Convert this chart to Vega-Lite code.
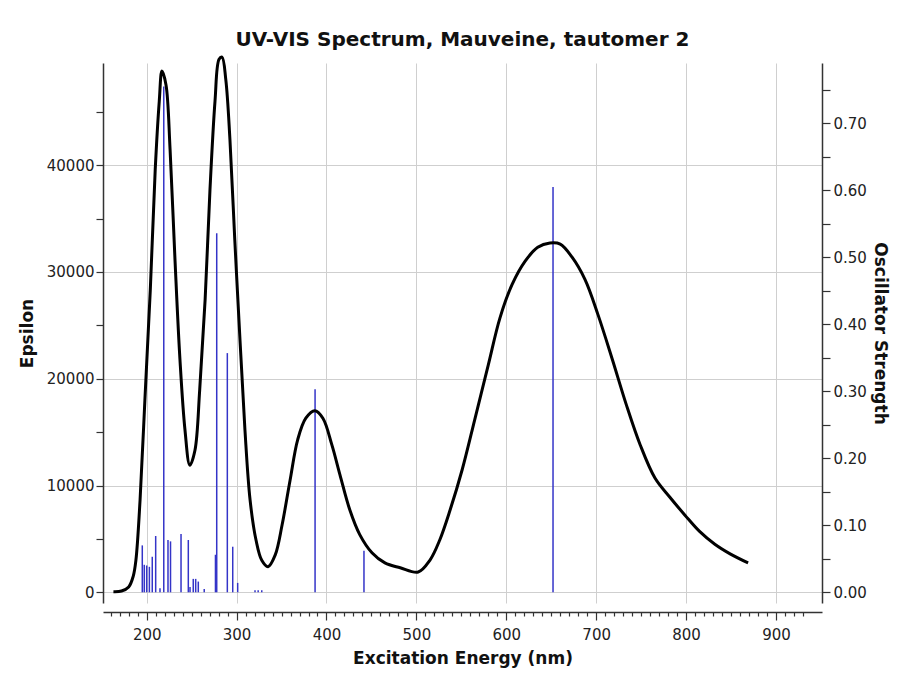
{
  "$schema": "https://vega.github.io/schema/vega-lite/v6.json",
  "width": 719,
  "height": 540,
  "autosize": {"type": "none"},
  "padding": {"left": 103, "top": 63, "right": 80, "bottom": 74},
  "background": "white",
  "title": {"text": "UV-VIS Spectrum, Mauveine, tautomer 2", "font": "DejaVu Sans", "fontSize": 20, "fontWeight": "bold", "color": "#111111", "offset": 6},
  "config": {
    "view": {"stroke": null},
    "axis": {"labelFont": "DejaVu Sans", "labelFontSize": 15, "labelColor": "#222222", "titleFont": "DejaVu Sans", "titleFontSize": 17, "titleFontWeight": "bold", "titleColor": "#111111", "domainColor": "#333333", "tickColor": "#333333", "gridColor": "#cfcfcf", "domainWidth": 1.5, "tickWidth": 1.2}
  },
  "datasets": {
    "curve": [
      {"nm": 163, "eps": 60}, {"nm": 172, "eps": 120}, {"nm": 180, "eps": 500}, {"nm": 185, "eps": 1500},
      {"nm": 188, "eps": 3000}, {"nm": 192.6, "eps": 8600}, {"nm": 198, "eps": 18000}, {"nm": 204, "eps": 28300},
      {"nm": 209.5, "eps": 39600}, {"nm": 214, "eps": 46000}, {"nm": 217, "eps": 48800}, {"nm": 221.5, "eps": 47500},
      {"nm": 226, "eps": 41500}, {"nm": 231.5, "eps": 31100}, {"nm": 237, "eps": 21800}, {"nm": 242.6, "eps": 15200},
      {"nm": 248, "eps": 11900}, {"nm": 253.7, "eps": 13300}, {"nm": 259, "eps": 19000}, {"nm": 265, "eps": 27400},
      {"nm": 270.4, "eps": 37700}, {"nm": 276, "eps": 46000}, {"nm": 280.5, "eps": 49900}, {"nm": 283.8, "eps": 50100},
      {"nm": 288, "eps": 48000}, {"nm": 292.6, "eps": 42400}, {"nm": 298, "eps": 33000}, {"nm": 303.8, "eps": 23600},
      {"nm": 309.3, "eps": 15200}, {"nm": 315, "eps": 8650}, {"nm": 321.6, "eps": 4900}, {"nm": 328, "eps": 3000},
      {"nm": 335, "eps": 2400}, {"nm": 343, "eps": 3500}, {"nm": 350.6, "eps": 6300}, {"nm": 359.5, "eps": 10500},
      {"nm": 368, "eps": 14300}, {"nm": 377, "eps": 16300}, {"nm": 387, "eps": 17000}, {"nm": 396, "eps": 16300},
      {"nm": 406, "eps": 13800}, {"nm": 415, "eps": 11000}, {"nm": 426, "eps": 7700}, {"nm": 437, "eps": 5400},
      {"nm": 450.6, "eps": 3700}, {"nm": 465, "eps": 2750}, {"nm": 482, "eps": 2300}, {"nm": 502, "eps": 1900},
      {"nm": 515, "eps": 3000}, {"nm": 526, "eps": 4900}, {"nm": 537.5, "eps": 7700}, {"nm": 551, "eps": 11500},
      {"nm": 565, "eps": 16200}, {"nm": 580, "eps": 21300}, {"nm": 593, "eps": 25700}, {"nm": 606.4, "eps": 28800},
      {"nm": 621, "eps": 31000}, {"nm": 635, "eps": 32300}, {"nm": 648.6, "eps": 32700}, {"nm": 660, "eps": 32600},
      {"nm": 673, "eps": 31400}, {"nm": 687.5, "eps": 29300}, {"nm": 702, "eps": 26000}, {"nm": 718, "eps": 21800},
      {"nm": 733.4, "eps": 17600}, {"nm": 749, "eps": 13800}, {"nm": 765.4, "eps": 10700}, {"nm": 782, "eps": 8900},
      {"nm": 799, "eps": 7200}, {"nm": 815, "eps": 5700}, {"nm": 832, "eps": 4500}, {"nm": 849, "eps": 3600},
      {"nm": 869, "eps": 2750}
    ],
    "sticks": [
      {"nm": 195.1, "f": 0.070}, {"nm": 197.3, "f": 0.041}, {"nm": 200.0, "f": 0.040}, {"nm": 203.0, "f": 0.038},
      {"nm": 206.2, "f": 0.053}, {"nm": 210.0, "f": 0.084}, {"nm": 214.8, "f": 0.006}, {"nm": 219.0, "f": 0.755},
      {"nm": 223.7, "f": 0.078}, {"nm": 226.5, "f": 0.076}, {"nm": 238.2, "f": 0.087}, {"nm": 246.3, "f": 0.078},
      {"nm": 248.2, "f": 0.008}, {"nm": 251.8, "f": 0.020}, {"nm": 254.5, "f": 0.020}, {"nm": 257.4, "f": 0.016},
      {"nm": 264.0, "f": 0.005}, {"nm": 276.5, "f": 0.056}, {"nm": 277.9, "f": 0.536}, {"nm": 289.7, "f": 0.357},
      {"nm": 295.7, "f": 0.068}, {"nm": 301.2, "f": 0.014}, {"nm": 320.5, "f": 0.003}, {"nm": 324.0, "f": 0.003},
      {"nm": 328.0, "f": 0.003}, {"nm": 387.3, "f": 0.303}, {"nm": 441.7, "f": 0.062}, {"nm": 652.0, "f": 0.605}
    ]
  },
  "encoding": {
    "x": {
      "field": "nm", "type": "quantitative",
      "scale": {"domain": [151.4, 951.2], "nice": false, "zero": false},
      "axis": {
        "title": "Excitation Energy (nm)",
        "values": [160, 170, 180, 190, 200, 210, 220, 230, 240, 250, 260, 270, 280, 290, 300, 310, 320, 330, 340, 350, 360, 370, 380, 390, 400, 410, 420, 430, 440, 450, 460, 470, 480, 490, 500, 510, 520, 530, 540, 550, 560, 570, 580, 590, 600, 610, 620, 630, 640, 650, 660, 670, 680, 690, 700, 710, 720, 730, 740, 750, 760, 770, 780, 790, 800, 810, 820, 830, 840, 850, 860, 870, 880, 890, 900, 910, 920, 930],
        "labelExpr": "datum.value % 100 === 0 ? datum.label : ''",
        "format": "d",
        "tickSize": {"condition": {"test": "datum.value % 100 === 0", "value": 8}, "value": 4},
        "grid": true,
        "gridOpacity": {"condition": {"test": "datum.value % 100 === 0", "value": 1}, "value": 0},
        "offset": 9,
        "labelPadding": 7,
        "titlePadding": 8,
        "labelFlush": false,
        "labelOverlap": false
      }
    }
  },
  "layer": [
    {
      "data": {"name": "sticks"},
      "mark": {"type": "rule", "color": "#3434c8", "strokeWidth": 1.5},
      "encoding": {
        "y": {
          "field": "f", "type": "quantitative",
          "scale": {"domain": [-0.016, 0.79], "nice": false, "zero": false},
          "axis": {
            "orient": "right",
            "title": "Oscillator Strength",
            "values": [0, 0.05, 0.1, 0.15, 0.2, 0.25, 0.3, 0.35, 0.4, 0.45, 0.5, 0.55, 0.6, 0.65, 0.7, 0.75],
            "format": ".2f",
            "labelExpr": "round(datum.value * 100) % 10 === 0 ? datum.label : ''",
            "tickSize": 8,
            "labelPadding": 3,
            "grid": false,
            "titlePadding": 4,
            "labelOverlap": false
          }
        },
        "y2": {"datum": 0}
      }
    },
    {
      "data": {"name": "curve"},
      "mark": {"type": "line", "color": "#000000", "strokeWidth": 3, "strokeJoin": "round", "interpolate": "catmull-rom"},
      "encoding": {
        "y": {
          "field": "eps", "type": "quantitative",
          "scale": {"domain": [-1000, 49560], "nice": false, "zero": false},
          "axis": {
            "orient": "left",
            "title": "Epsilon",
            "values": [0, 5000, 10000, 15000, 20000, 25000, 30000, 35000, 40000, 45000],
            "format": "d",
            "labelExpr": "datum.value % 10000 === 0 ? datum.label : ''",
            "tickSize": 7,
            "labelPadding": 2,
            "grid": true,
            "gridOpacity": {"condition": {"test": "datum.value % 10000 === 0", "value": 1}, "value": 0},
            "titlePadding": 10,
            "labelOverlap": false
          }
        }
      }
    }
  ],
  "resolve": {"scale": {"y": "independent"}}
}
